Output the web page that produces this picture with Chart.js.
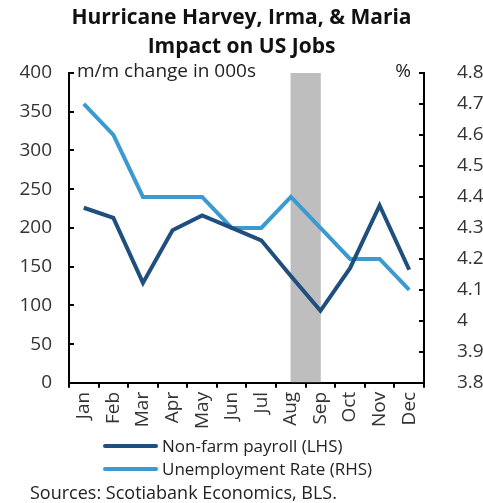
<!DOCTYPE html>
<html>
<head>
<meta charset="utf-8">
<script src="https://cdn.jsdelivr.net/npm/chart.js@4.4.1/dist/chart.umd.min.js"></script>
<style>
  body { margin: 0; background: #fff; font-family: "Open Sans", sans-serif; }
  #wrap { position: relative; width: 483px; height: 503px; }
  #chartBox { position: absolute; left: 0; top: 0; width: 483px; height: 437px; }
  #legend { position: absolute; left: 103px; top: 434px; font-size: 17px; color: #222; }
  .row { height: 23px; display: flex; align-items: center; }
  .swatch { width: 55px; height: 4px; border-radius: 2px; margin-right: 4px; }
  #source { position: absolute; left: 30px; top: 480px; font-size: 18px; color: #222; }
</style>
</head>
<body>
<div id="wrap">
  <div id="chartBox"><canvas id="jobsChart"></canvas></div>
  <div id="legend"></div>
  <div id="source">Sources: Scotiabank Economics, BLS.</div>
</div>
<script>
const months = ["Jan", "Feb", "Mar", "Apr", "May", "Jun", "Jul", "Aug", "Sep", "Oct", "Nov", "Dec"];
// non-farm payrolls, m/m change in 000s (LHS)
const payroll = [226, 213, 129, 197, 216, 200, 184, 138, 93, 148, 229, 146];
// unemployment rate, % (RHS)
const unemployment = [4.7, 4.6, 4.4, 4.4, 4.4, 4.3, 4.3, 4.4, 4.3, 4.2, 4.2, 4.1];
// shaded hurricane period, mid-Aug to mid-Sep (right half of Aug + left half of Sep)
const bandRightHalf = [null, null, null, null, null, null, null, 400, null, null, null, null];
const bandLeftHalf = [null, null, null, null, null, null, null, null, 400, null, null, null];

const tickFont = { family: "Open Sans", size: 19 };

// little captions sitting at the top of each axis
const axisCaptions = {
  id: "axisCaptions",
  afterDraw(chart) {
    const ctx = chart.ctx;
    const area = chart.chartArea;
    const yTop = chart.scales.y.getPixelForValue(400) - 1;
    ctx.save();
    ctx.font = "19px 'Open Sans'";
    ctx.fillStyle = "#222";
    ctx.textBaseline = "middle";
    ctx.textAlign = "left";
    ctx.fillText("m/m change in 000s", area.left + 8, yTop);
    ctx.textAlign = "right";
    ctx.fillText("%", area.right - 13, yTop);
    ctx.restore();
  },
};

const bandStyle = {
  type: "bar",
  xAxisID: "x",
  yAxisID: "y",
  backgroundColor: "#bebebe",
  barPercentage: 1,
  categoryPercentage: 1,
  order: 3,
};

const chart = new Chart(document.getElementById("jobsChart").getContext("2d"), {
  type: "line",
  data: {
    labels: months,
    datasets: [
      {
        label: "Non-farm payroll (LHS)",
        data: payroll,
        xAxisID: "x",
        yAxisID: "y",
        borderColor: "#1f4e7f",
        backgroundColor: "#1f4e7f",
        borderWidth: 4,
        pointRadius: 0,
        order: 1,
      },
      {
        label: "Unemployment Rate (RHS)",
        data: unemployment,
        xAxisID: "x",
        yAxisID: "y1",
        borderColor: "#3b9ad0",
        backgroundColor: "#3b9ad0",
        borderWidth: 4,
        pointRadius: 0,
        order: 2,
      },
      // grouped bars: first one takes the left half of each month, second the right half
      { ...bandStyle, label: "band-left", data: bandLeftHalf },
      { ...bandStyle, label: "band-right", data: bandRightHalf },
    ],
  },
  options: {
    responsive: true,
    maintainAspectRatio: false,
    animation: false,
    layout: { padding: { top: 0, bottom: 4 } },
    plugins: {
      legend: { display: false },
      tooltip: { enabled: false },
      title: {
        display: true,
        text: ["Hurricane Harvey, Irma, & Maria", "Impact on US Jobs"],
        color: "#111",
        font: { family: "Open Sans", size: 21, weight: "bold", lineHeight: 1.38 },
        padding: { top: 4, bottom: 11 },
      },
    },
    scales: {
      x: {
        offset: true,
        grid: { offset: true, drawOnChartArea: false, color: "#000", lineWidth: 2, tickLength: 5 },
        border: { color: "#000", width: 2 },
        ticks: { color: "#333", font: tickFont, maxRotation: 90, minRotation: 90, padding: 4 },
      },
      y: {
        position: "left",
        min: 0,
        max: 400,
        grid: { drawOnChartArea: false, color: "#000", lineWidth: 2, tickLength: -5 },
        border: { color: "#000", width: 2 },
        ticks: { stepSize: 50, color: "#333", font: tickFont, padding: 22 },
        afterFit(scale) { scale.width = 69; },
      },
      y1: {
        position: "right",
        min: 3.8,
        max: 4.8,
        grid: { drawOnChartArea: false, color: "#000", lineWidth: 2, tickLength: -5 },
        border: { color: "#000", width: 2 },
        ticks: {
          stepSize: 0.1,
          color: "#333",
          font: tickFont,
          padding: 38,
          callback: (v) => String(+v.toFixed(1)),
        },
        afterFit(scale) { scale.width = 59; },
      },
    },
  },
  plugins: [axisCaptions],
});

// legend built from the line datasets
const legendBox = document.getElementById("legend");
chart.data.datasets.filter((d) => d.type !== "bar").forEach((d) => {
  const row = document.createElement("div");
  row.className = "row";
  row.innerHTML = `<span class="swatch" style="background:${d.borderColor}"></span><span>${d.label}</span>`;
  legendBox.appendChild(row);
});
</script>
</body>
</html>
